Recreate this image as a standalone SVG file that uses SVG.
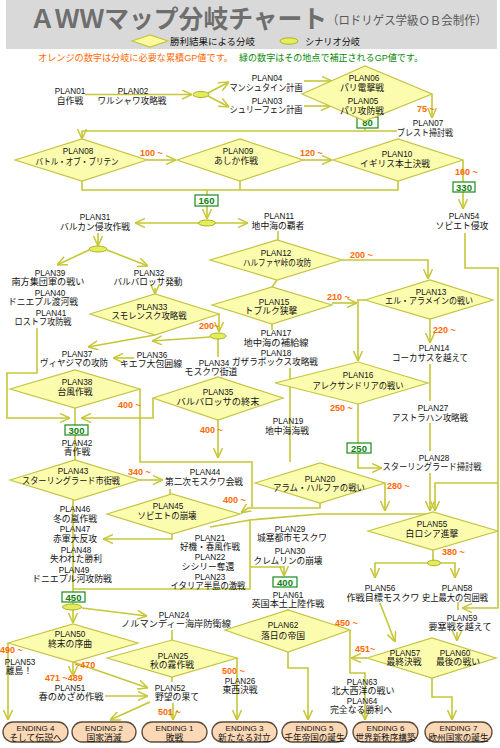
<svg xmlns="http://www.w3.org/2000/svg" width="500" height="748" viewBox="0 0 500 748">
<style>
.ln{fill:none;stroke:#c6c636;stroke-width:1.6}
.a{marker-end:url(#ah)}
.dm{fill:#fcfcae;stroke:#c4c444;stroke-width:1.2}
.el{fill:#e2ee5a;stroke:#b0b028;stroke-width:1}
text{font-family:"Liberation Sans","Noto Sans CJK JP",sans-serif;text-anchor:middle;fill:#111}
.p{font-size:8.2px}
.j{font-size:8.8px}
.o{fill:#ff6a00;font-size:9px;font-weight:bold;text-anchor:start}
.gb{fill:#fff;stroke:#1a8a1a;stroke-width:1.2}
.gt{fill:#0f7f0f;font-size:9.5px;font-weight:bold}
.en{fill:#fbd8b6;stroke:#5a4838;stroke-width:1.3}
.et{font-size:8px}
.ej{font-size:8.8px}
</style>
<defs>
<marker id="ah" viewBox="0 0 10 10" refX="10" refY="5" markerWidth="10" markerHeight="10" markerUnits="userSpaceOnUse" orient="auto"><path d="M0,0.5 L10,5 L0,9.5" fill="none" stroke="#c6c636" stroke-width="1.5"/></marker>
</defs>
<rect width="500" height="748" fill="#fff"/>
<g id="header">
<rect x="6" y="0" width="491" height="49" fill="#d9d9d9"/>
<text x="30" y="28" style="font-size:25px;font-weight:bold;fill:#6e6e6e;text-anchor:start" textLength="297" lengthAdjust="spacingAndGlyphs">ＡＷＷマップ分岐チャート</text>
<text x="327" y="25" style="font-size:12px;fill:#5a5a5a;text-anchor:start" textLength="160" lengthAdjust="spacingAndGlyphs">（ロドリゲス学級ＯＢ会制作）</text>
<polygon class="dm" points="132,41 150,35 168,41 150,47" style="fill:#fbfb9c"/>
<text x="170" y="45" style="text-anchor:start;font-size:9.5px" textLength="85" lengthAdjust="spacingAndGlyphs">勝利結果による分岐</text>
<ellipse class="el" cx="289" cy="41" rx="9" ry="3.2"/>
<text x="305" y="45" style="text-anchor:start;font-size:9.5px" textLength="55" lengthAdjust="spacingAndGlyphs">シナリオ分岐</text>
<text x="38" y="61" style="text-anchor:start;fill:#ff6a00;font-size:9.5px" textLength="195" lengthAdjust="spacingAndGlyphs">オレンジの数字は分岐に必要な累積GP値です。</text>
<text x="239" y="61" style="text-anchor:start;fill:#0a8a0a;font-size:9.5px" textLength="184" lengthAdjust="spacingAndGlyphs">緑の数字はその地点で補正されるGP値です。</text>
</g>
<g id="connectors">
<path class="ln a" d="M85,94.5 H192"/>
<path class="ln a" d="M208,93 L229,82"/>
<path class="ln a" d="M208,96 L229,107"/>
<path class="ln a" d="M304,81 H332"/>
<path class="ln a" d="M304,106 H331"/>
<path class="ln a" d="M432,94 V118"/>
<path class="ln" d="M365,121 V131"/>
<path class="ln a" d="M397,131 H82 V139"/>
<path class="ln a" d="M147,160 H176"/>
<path class="ln a" d="M303,160 H332"/>
<path class="ln" d="M463,160 V182"/>
<path class="ln a" d="M463,191 V209"/>
<path class="ln" d="M82,181 V190 H398 V181 M240,181 V190 M207,190 V195"/>
<path class="ln a" d="M207,206 V219"/>
<path class="ln a" d="M199,223 H135"/>
<path class="ln a" d="M215,223 H248"/>
<path class="ln a" d="M98,233 V246"/>
<path class="ln a" d="M89,250 L57,265"/>
<path class="ln a" d="M107,250 L148,266"/>
<path class="ln a" d="M155,288 V294"/>
<path class="ln a" d="M219,314 V332"/>
<path class="ln" d="M218,339 V357"/>
<path class="ln a" d="M210,337 L152,341"/>
<path class="ln a" d="M155,335 L88,347"/>
<path class="ln a" d="M134,358 H113"/>
<path class="ln a" d="M37,328 V373 H7 V418 H70"/>
<path class="ln a" d="M153,398 V418 H81"/>
<path class="ln" d="M75,408 V425 M75,434 V460"/>
<path class="ln" d="M140,389 V462 H252 V507"/>
<path class="ln a" d="M218,420 V458"/>
<path class="ln a" d="M140,480 H163"/>
<path class="ln" d="M170,489 V494"/>
<path class="ln a" d="M320,503 V508 H248 L241,513"/>
<path class="ln a" d="M172,534 V539 H103"/>
<path class="ln" d="M73,500 V592"/>
<path class="ln" d="M210,527 L250,520 L320,514 H432 M250,520 V589 H73"/>
<path class="ln a" d="M250,567 H284 V576"/>
<path class="ln" d="M278,231 V240"/>
<path class="ln a" d="M342,260 H428 V279"/>
<path class="ln" d="M277,280 L272,287"/>
<path class="ln a" d="M332,303 H357"/>
<path class="ln a" d="M365,300 H358 V361"/>
<path class="ln a" d="M430,319 V343"/>
<path class="ln" d="M430,364 V401 M430,423 V451"/>
<path class="ln a" d="M430,473 V511"/>
<path class="ln a" d="M465,233 V268 H498 V608 H462"/>
<path class="ln a" d="M498,483 H435 V511"/>
<path class="ln" d="M272,324 V330 M290,368 V462"/>
<path class="ln" d="M358,404 V443"/>
<path class="ln a" d="M358,453 V468 H382"/>
<path class="ln a" d="M385,483 V511"/>
<path class="ln" d="M433,550 V560"/>
<path class="ln a" d="M428,563 H375 V578"/>
<path class="ln a" d="M440,563 H455 V578"/>
<path class="ln" d="M458,602 V610"/>
<path class="ln a" d="M380,603 L395,642"/>
<path class="ln a" d="M457,632 V641"/>
<path class="ln a" d="M367,658 H351"/>
<path class="ln a" d="M350,630 V673 H365 V720"/>
<path class="ln a" d="M288,652 V668 H308 V720"/>
<path class="ln a" d="M432,678 V697 H452 V720"/>
<path class="ln" d="M73,602 V604 M288,609 V611 M172,630 V640 M172,677 V682"/>
<path class="ln a" d="M82,608 L147,616"/>
<path class="ln a" d="M73,610 V623"/>
<path class="ln a" d="M8,643 V720"/>
<path class="ln a" d="M73,662 V676"/>
<path class="ln a" d="M73,662 L148,688"/>
<path class="ln a" d="M105,696 H148"/>
<path class="ln a" d="M173,703 V720"/>
<path class="ln a" d="M150,702 L110,720"/>
<path class="ln a" d="M237,658 V720"/>
</g>
<g id="branch-points">
<ellipse class="el" cx="201" cy="94.5" rx="8" ry="3"/>
<ellipse class="el" cx="207" cy="223" rx="8.5" ry="3"/>
<ellipse class="el" cx="98" cy="249" rx="9" ry="3"/>
<ellipse class="el" cx="218" cy="336" rx="8" ry="3"/>
<ellipse class="el" cx="434" cy="563" rx="6.5" ry="2.8"/>
<ellipse class="el" cx="72" cy="607" rx="9.5" ry="3"/>
</g>
<g id="gp-values">
<text class="o" x="417" y="112">75 ~</text>
<text class="o" x="140" y="156">100 ~</text>
<text class="o" x="300" y="156">120 ~</text>
<text class="o" x="455" y="175">160 ~</text>
<text class="o" x="350" y="258">200 ~</text>
<text class="o" x="327" y="300">210 ~</text>
<text class="o" x="199" y="329">200~</text>
<text class="o" x="433" y="333">220 ~</text>
<text class="o" x="330" y="411">250 ~</text>
<text class="o" x="118" y="408">400 ~</text>
<text class="o" x="200" y="433">400 ~</text>
<text class="o" x="128" y="475">340 ~</text>
<text class="o" x="387" y="489">280 ~</text>
<text class="o" x="223" y="503">400 ~</text>
<text class="o" x="442" y="555">380 ~</text>
<text class="o" x="335" y="626">450 ~</text>
<text class="o" x="355" y="652">451~</text>
<text class="o" x="0" y="653">490 ~</text>
<text class="o" x="75" y="668">~470</text>
<text class="o" x="45" y="681">471 ~489</text>
<text class="o" x="222" y="674">500 ~</text>
<text class="o" x="158" y="715">501 ~</text>
<rect class="gb" x="357" y="117" width="21" height="11"/><text class="gt" x="367.5" y="126">80</text>
<rect class="gb" x="453" y="182" width="22" height="10"/><text class="gt" x="464" y="190.5">330</text>
<rect class="gb" x="195" y="195" width="23" height="11"/><text class="gt" x="206.5" y="204">160</text>
<rect class="gb" x="65" y="425" width="23" height="10"/><text class="gt" x="76.5" y="433.5">300</text>
<rect class="gb" x="347" y="443" width="24" height="10"/><text class="gt" x="359" y="451.5">250</text>
<rect class="gb" x="273" y="577" width="24" height="10"/><text class="gt" x="285" y="585.5">400</text>
<rect class="gb" x="62" y="592" width="23" height="10"/><text class="gt" x="73.5" y="600.5">450</text>
</g>
<g id="plan01"><text class="p" x="70" y="94">PLAN01</text><text class="j" x="70" y="104">自作戦</text></g>
<g id="plan02"><text class="p" x="133" y="94">PLAN02</text><text class="j" x="132" y="104" textLength="69" lengthAdjust="spacingAndGlyphs">ワルシャワ攻略戦</text></g>
<g id="plan04"><text class="p" x="267" y="80.5">PLAN04</text><text class="j" x="266" y="91" textLength="73" lengthAdjust="spacingAndGlyphs">マンシュタイン計画</text></g>
<g id="plan03"><text class="p" x="267" y="103.5">PLAN03</text><text class="j" x="266" y="113" textLength="73" lengthAdjust="spacingAndGlyphs">シュリーフェン計画</text></g>
<g id="plan06-05"><polygon class="dm" points="302,94 365,66 432,94 365,121"/><text class="p" x="364" y="80.5">PLAN06</text><text class="j" x="362" y="91">パリ電撃戦</text><text class="p" x="363" y="104">PLAN05</text><text class="j" x="362" y="114">パリ攻防戦</text></g>
<g id="plan07"><text class="p" x="428" y="126">PLAN07</text><text class="j" x="425" y="136" textLength="56" lengthAdjust="spacingAndGlyphs">ブレスト掃討戦</text></g>
<g id="plan08"><polygon class="dm" points="15,160 82,139 147,160 82,181"/><text class="p" x="78" y="153.5">PLAN08</text><text class="j" x="77" y="165" textLength="83" lengthAdjust="spacingAndGlyphs">バトル・オブ・ブリテン</text></g>
<g id="plan09"><polygon class="dm" points="177,160 240,139 303,160 240,181"/><text class="p" x="238" y="154">PLAN09</text><text class="j" x="236" y="164">あしか作戦</text></g>
<g id="plan10"><polygon class="dm" points="333,160 398,139 463,160 398,181"/><text class="p" x="397" y="157">PLAN10</text><text class="j" x="395" y="167" textLength="70" lengthAdjust="spacingAndGlyphs">イギリス本土決戦</text></g>
<g id="plan54"><text class="p" x="464" y="219">PLAN54</text><text class="j" x="462" y="229">ソビエト侵攻</text></g>
<g id="plan31"><text class="p" x="95" y="220">PLAN31</text><text class="j" x="95" y="230" textLength="70" lengthAdjust="spacingAndGlyphs">バルカン侵攻作戦</text></g>
<g id="plan11"><text class="p" x="279" y="219">PLAN11</text><text class="j" x="278" y="229">地中海の覇者</text></g>
<g id="plan12"><polygon class="dm" points="210,260 277,240 342,260 277,280"/><text class="p" x="276" y="256">PLAN12</text><text class="j" x="277" y="266" textLength="68" lengthAdjust="spacingAndGlyphs">ハルファヤ峠の攻防</text></g>
<g id="plan39"><text class="p" x="50" y="275.5">PLAN39</text><text class="j" x="48" y="284.5" textLength="73" lengthAdjust="spacingAndGlyphs">南方集団軍の戦い</text></g>
<g id="plan40"><text class="p" x="50" y="296">PLAN40</text><text class="j" x="43" y="305" textLength="70" lengthAdjust="spacingAndGlyphs">ドニエプル渡河戦</text></g>
<g id="plan41"><text class="p" x="51" y="316">PLAN41</text><text class="j" x="43" y="325" textLength="57" lengthAdjust="spacingAndGlyphs">ロストフ攻防戦</text></g>
<g id="plan32"><text class="p" x="149" y="276">PLAN32</text><text class="j" x="148" y="285" textLength="69" lengthAdjust="spacingAndGlyphs">バルバロッサ発動</text></g>
<g id="plan33"><polygon class="dm" points="90,314 155,294 219,314 155,335"/><text class="p" x="152" y="310">PLAN33</text><text class="j" x="149" y="319" textLength="75" lengthAdjust="spacingAndGlyphs">スモレンスク攻略戦</text></g>
<g id="plan13"><polygon class="dm" points="365,300 430,280 493,300 430,319"/><text class="p" x="431" y="295">PLAN13</text><text class="j" x="429" y="304" textLength="88" lengthAdjust="spacingAndGlyphs">エル・アラメインの戦い</text></g>
<g id="plan15"><polygon class="dm" points="212,305 272,287 332,305 272,324"/><text class="p" x="274" y="305">PLAN15</text><text class="j" x="271" y="314">トブルク狭撃</text></g>
<g id="plan14"><text class="p" x="434" y="351">PLAN14</text><text class="j" x="430" y="361" textLength="76" lengthAdjust="spacingAndGlyphs">コーカサスを越えて</text></g>
<g id="plan17"><text class="p" x="276" y="336">PLAN17</text><text class="j" x="276" y="346" textLength="65" lengthAdjust="spacingAndGlyphs">地中海の補給線</text></g>
<g id="plan18"><text class="p" x="276" y="356">PLAN18</text><text class="j" x="275" y="365" textLength="86" lengthAdjust="spacingAndGlyphs">ガザラボックス攻略戦</text></g>
<g id="plan37"><text class="p" x="77" y="357">PLAN37</text><text class="j" x="74" y="366" textLength="68" lengthAdjust="spacingAndGlyphs">ヴィヤジマの攻防</text></g>
<g id="plan36"><text class="p" x="152" y="358">PLAN36</text><text class="j" x="151" y="367" textLength="62" lengthAdjust="spacingAndGlyphs">キエフ大包囲線</text></g>
<g id="plan34"><text class="p" x="214" y="366">PLAN34</text><text class="j" x="211" y="375">モスクワ街道</text></g>
<g id="plan16"><polygon class="dm" points="275,383 358,362 428,383 358,404"/><text class="p" x="358" y="378">PLAN16</text><text class="j" x="358" y="389" textLength="91" lengthAdjust="spacingAndGlyphs">アレクサンドリアの戦い</text></g>
<g id="plan38"><polygon class="dm" points="10,389 75,370 140,389 75,408"/><text class="p" x="77" y="385">PLAN38</text><text class="j" x="75" y="395">台風作戦</text></g>
<g id="plan35"><polygon class="dm" points="153,398 218,377 283,398 218,420"/><text class="p" x="218" y="395">PLAN35</text><text class="j" x="218" y="405" textLength="83" lengthAdjust="spacingAndGlyphs">バルバロッサの終末</text></g>
<g id="plan27"><text class="p" x="433" y="410.5">PLAN27</text><text class="j" x="430" y="421" textLength="76" lengthAdjust="spacingAndGlyphs">アストラハン攻略戦</text></g>
<g id="plan19"><text class="p" x="288" y="423.5">PLAN19</text><text class="j" x="287" y="434">地中海海戦</text></g>
<g id="plan42"><text class="p" x="77" y="445.5">PLAN42</text><text class="j" x="77" y="454.5">青作戦</text></g>
<g id="plan28"><text class="p" x="434" y="460.5">PLAN28</text><text class="j" x="432" y="470" textLength="99" lengthAdjust="spacingAndGlyphs">スターリングラード掃討戦</text></g>
<g id="plan43"><polygon class="dm" points="10,480 75,460 140,480 75,500"/><text class="p" x="73" y="474">PLAN43</text><text class="j" x="71" y="484" textLength="98" lengthAdjust="spacingAndGlyphs">スターリングラード市街戦</text></g>
<g id="plan44"><text class="p" x="205" y="475">PLAN44</text><text class="j" x="204" y="484.5" textLength="78" lengthAdjust="spacingAndGlyphs">第二次モスクワ会戦</text></g>
<g id="plan20"><polygon class="dm" points="255,483 320,463 385,483 320,503"/><text class="p" x="320" y="481.5">PLAN20</text><text class="j" x="319" y="491" textLength="92" lengthAdjust="spacingAndGlyphs">アラム・ハルファの戦い</text></g>
<g id="plan45"><polygon class="dm" points="107,514 172,494 240,514 172,534"/><text class="p" x="168" y="508.5">PLAN45</text><text class="j" x="167" y="519" textLength="59" lengthAdjust="spacingAndGlyphs">ソビエトの崩壊</text></g>
<g id="plan46"><text class="p" x="75" y="511.5">PLAN46</text><text class="j" x="75" y="522">冬の嵐作戦</text></g>
<g id="plan47"><text class="p" x="75" y="531.5">PLAN47</text><text class="j" x="75" y="542">赤軍大反攻</text></g>
<g id="plan48"><text class="p" x="76" y="552.5">PLAN48</text><text class="j" x="76" y="562" textLength="52" lengthAdjust="spacingAndGlyphs">失われた勝利</text></g>
<g id="plan49"><text class="p" x="74" y="572.5">PLAN49</text><text class="j" x="72" y="582" textLength="80" lengthAdjust="spacingAndGlyphs">ドニエプル河攻防戦</text></g>
<g id="plan55"><polygon class="dm" points="368,531 433,512 498,531 433,550"/><text class="p" x="432" y="526.5">PLAN55</text><text class="j" x="432" y="537">白ロシア進撃</text></g>
<g id="plan29"><text class="p" x="290" y="531.5">PLAN29</text><text class="j" x="292" y="541" textLength="70" lengthAdjust="spacingAndGlyphs">城塞都市モスクワ</text></g>
<g id="plan30"><text class="p" x="290" y="553.5">PLAN30</text><text class="j" x="288" y="564" textLength="69" lengthAdjust="spacingAndGlyphs">クレムリンの崩壊</text></g>
<g id="plan21"><text class="p" x="210" y="540.5">PLAN21</text><text class="j" x="210" y="550" textLength="60" lengthAdjust="spacingAndGlyphs">好機・春風作戦</text></g>
<g id="plan22"><text class="p" x="210" y="560">PLAN22</text><text class="j" x="208" y="569.5">シシリー奪還</text></g>
<g id="plan23"><text class="p" x="210" y="579.5">PLAN23</text><text class="j" x="208" y="589" textLength="75" lengthAdjust="spacingAndGlyphs">イタリア半島の激戦</text></g>
<g id="plan56"><text class="p" x="380" y="590.5">PLAN56</text><text class="j" x="383" y="601" textLength="73" lengthAdjust="spacingAndGlyphs">作戦目標モスクワ</text></g>
<g id="plan58"><text class="p" x="457" y="590.5">PLAN58</text><text class="j" x="455" y="601" textLength="66" lengthAdjust="spacingAndGlyphs">史上最大の包囲戦</text></g>
<g id="plan61"><text class="p" x="288" y="597.5">PLAN61</text><text class="j" x="288" y="607" textLength="73" lengthAdjust="spacingAndGlyphs">英国本土上陸作戦</text></g>
<g id="plan24"><text class="p" x="174" y="617.5">PLAN24</text><text class="j" x="176" y="627" textLength="110" lengthAdjust="spacingAndGlyphs">ノルマンディー海岸防衛線</text></g>
<g id="plan59"><text class="p" x="462" y="620.5">PLAN59</text><text class="j" x="460" y="630" textLength="63" lengthAdjust="spacingAndGlyphs">要塞戦を越えて</text></g>
<g id="plan62"><polygon class="dm" points="225,630 288,610 350,630 288,652"/><text class="p" x="283" y="628">PLAN62</text><text class="j" x="283" y="639">落日の帝国</text></g>
<g id="plan50"><polygon class="dm" points="8,643 73,624 138,643 73,662"/><text class="p" x="70" y="636.5">PLAN50</text><text class="j" x="70" y="647">終末の序曲</text></g>
<g id="plan57-60"><polygon class="dm" points="367,658 432,638 496,658 432,678"/><text class="p" x="405" y="655.5">PLAN57</text><text class="j" x="404" y="665">最終決戦</text><text class="p" x="455" y="655.5">PLAN60</text><text class="j" x="458" y="665">最後の戦い</text></g>
<g id="plan25"><polygon class="dm" points="107,658 172,640 237,658 172,677"/><text class="p" x="173" y="658.5">PLAN25</text><text class="j" x="172" y="668">秋の霧作戦</text></g>
<g id="plan53"><text class="p" x="20" y="664.5">PLAN53</text><text class="j" x="19" y="674">離島！</text></g>
<g id="plan26"><text class="p" x="240" y="683.5">PLAN26</text><text class="j" x="240" y="693">東西決戦</text></g>
<g id="plan63"><text class="p" x="362" y="685">PLAN63</text><text class="j" x="363" y="694" textLength="63" lengthAdjust="spacingAndGlyphs">北大西洋の戦い</text></g>
<g id="plan51"><text class="p" x="70" y="690.5">PLAN51</text><text class="j" x="71" y="700" textLength="65" lengthAdjust="spacingAndGlyphs">春のめざめ作戦</text></g>
<g id="plan52"><text class="p" x="170" y="690.5">PLAN52</text><text class="j" x="177" y="700">野望の果て</text></g>
<g id="plan64"><text class="p" x="362" y="703.5">PLAN64</text><text class="j" x="361" y="712.5" textLength="62" lengthAdjust="spacingAndGlyphs">完全なる勝利へ</text></g>
<g id="ending4"><rect class="en" x="3" y="722" width="65" height="20" rx="10"/><text class="et" x="35.5" y="730.5">ENDING 4</text><text class="ej" x="35.5" y="740.5">そして伝説へ</text></g>
<g id="ending2"><rect class="en" x="72" y="722" width="64" height="20" rx="10"/><text class="et" x="104" y="730.5">ENDING 2</text><text class="ej" x="104" y="740.5">国家消滅</text></g>
<g id="ending1"><rect class="en" x="142" y="722" width="65" height="20" rx="10"/><text class="et" x="174.5" y="730.5">ENDING 1</text><text class="ej" x="174.5" y="740.5">敗戦</text></g>
<g id="ending3"><rect class="en" x="212" y="722" width="65" height="20" rx="10"/><text class="et" x="244.5" y="730.5">ENDING 3</text><text class="ej" x="244.5" y="740.5">新たなる対立</text></g>
<g id="ending5"><rect class="en" x="282" y="722" width="65" height="20" rx="10"/><text class="et" x="314.5" y="730.5">ENDING 5</text><text class="ej" x="314.5" y="740.5" textLength="60" lengthAdjust="spacingAndGlyphs">千年帝国の誕生</text></g>
<g id="ending6"><rect class="en" x="353" y="722" width="65" height="20" rx="10"/><text class="et" x="385.5" y="730.5">ENDING 6</text><text class="ej" x="385.5" y="740.5" textLength="60" lengthAdjust="spacingAndGlyphs">世界新秩序構築</text></g>
<g id="ending7"><rect class="en" x="425" y="722" width="67" height="20" rx="10"/><text class="et" x="458.5" y="730.5">ENDING 7</text><text class="ej" x="458.5" y="740.5" textLength="60" lengthAdjust="spacingAndGlyphs">欧州国家の誕生</text></g>
</svg>
